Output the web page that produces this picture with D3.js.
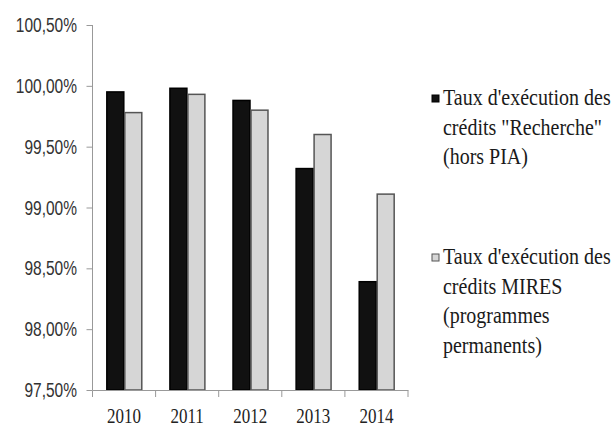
<!DOCTYPE html>
<html><head><meta charset="utf-8">
<script src="https://cdn.jsdelivr.net/npm/d3@7"></script>
<style>body{margin:0;background:#fff}svg{display:block}</style>
</head><body><svg id="c" width="614" height="428"></svg>
<script>
const years = ["2010","2011","2012","2013","2014"];
const recherche = [99.95, 99.98, 99.88, 99.32, 98.39];
const mires = [99.78, 99.93, 99.80, 99.60, 99.11];
const yTicks = [97.5, 98.0, 98.5, 99.0, 99.5, 100.0, 100.5];
const legendLines = [
  ["Taux d'exécution des", "crédits \"Recherche\"", "(hors PIA)"],
  ["Taux d'exécution des", "crédits MIRES", "(programmes", "permanents)"]
];
const colors = ["#111111", "#d6d6d6"];
const strokes = ["#000000", "#555555"];

const svg = d3.select("#c");
const y = d3.scaleLinear().domain([97.5, 100.5]).range([390, 25]);
const x = d3.scaleBand().domain(years).range([92.5, 408]).paddingInner(0.43).paddingOuter(0.215);
const xs = d3.scaleBand().domain([0,1]).range([0, x.bandwidth()]);
const series = [recherche, mires];

// bars
series.forEach((vals, si) => {
  svg.append("g").selectAll("rect").data(vals).join("rect")
    .attr("x", (d,i) => x(years[i]) + xs(si) + 0.75)
    .attr("width", xs.bandwidth() - 1)
    .attr("y", d => y(d))
    .attr("height", d => y(97.5) - y(d))
    .attr("fill", colors[si])
    .attr("stroke", strokes[si])
    .attr("stroke-width", 1.5);
});

// y axis
const yAxis = svg.append("g").attr("transform", "translate(92.5,0)")
  .call(d3.axisLeft(y).tickValues(yTicks).tickSize(6).tickFormat(""));
yAxis.select(".domain").attr("stroke", "#999").attr("d", "M0,25V390");
yAxis.selectAll(".tick line").attr("stroke", "#999");
const fmt = v => v.toFixed(2).replace(".", ",") + "%";
svg.append("g").selectAll("g").data(yTicks).join("g")
  .attr("transform", d => `translate(77,${y(d) + 7}) scale(1,1.3)`)
  .append("text").attr("text-anchor", "end")
  .attr("font-family", "Liberation Sans, Arial, sans-serif").attr("font-size", 15.5)
  .attr("fill", "#333").text(d => fmt(d));

// x axis
const bounds = years.map(d => x(d) - x.step() * 0.215).concat([408]);
const xg = svg.append("g");
xg.append("line").attr("x1", 92.5).attr("x2", 408.5).attr("y1", 390.5).attr("y2", 390.5).attr("stroke", "#999");
xg.selectAll("line.t").data(bounds).join("line").attr("class","t")
  .attr("x1", d => d).attr("x2", d => d).attr("y1", 390.5).attr("y2", 397).attr("stroke", "#999");
svg.append("g").selectAll("g").data(years).join("g")
  .attr("transform", d => `translate(${x(d) + x.bandwidth()/2},423) scale(1,1.22)`)
  .append("text").attr("text-anchor", "middle")
  .attr("font-family", "Liberation Serif, serif").attr("font-size", 17)
  .attr("fill", "#222").text(d => d);

// legend
const legTop = [105, 264];
legendLines.forEach((lines, li) => {
  svg.append("rect").attr("x", 432).attr("y", legTop[li] - 10).attr("width", 7).attr("height", 7)
    .attr("fill", colors[li]).attr("stroke", strokes[li]).attr("stroke-width", 1);
  lines.forEach((t, k) => {
    svg.append("g").attr("transform", `translate(443,${legTop[li] + k * 29.5}) scale(1,1.15)`)
      .append("text").attr("font-family", "Liberation Serif, serif").attr("font-size", 20)
      .attr("fill", "#1a1a1a").text(t);
  });
});
</script></body></html>
